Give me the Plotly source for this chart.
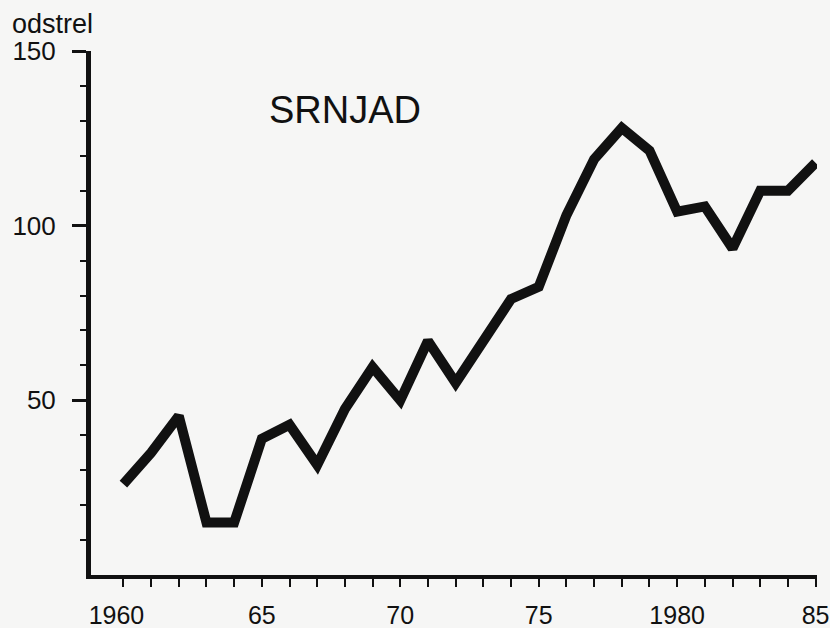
import plotly.graph_objects as go

# ---- data ----
years = list(range(1960, 1986))
odstrel = [26, 35, 45.5, 15, 15, 39, 43, 31.5, 47.5, 59.5, 50, 67, 55, 67,
           79, 82.5, 103, 119, 128, 121.5, 104, 105.5, 93.5, 110, 110, 118]

x_major_vals = [1960, 1965, 1970, 1975, 1980, 1985]
x_major_text = ["1960\u2007", "65", "70", "75", "1980", "85"]
x_minor_vals = [y for y in years if y not in x_major_vals]

y_major_vals = [50, 100, 150]
y_major_text = ["50", "100", "150"]
y_minor_vals = [10, 20, 30, 40, 60, 70, 80, 90, 110, 120, 130, 140]

title_text = "SRNJAD"
ylabel_text = "odstrel"

FONT = "Liberation Sans, Arial, Helvetica, sans-serif"
INK = "#111111"
PAPER = "#f6f6f5"

fig = go.Figure()
fig.add_trace(go.Scatter(
    x=years, y=odstrel, mode="lines",
    line=dict(color=INK, width=10),
    hoverinfo="skip", showlegend=False,
))

fig.update_layout(
    width=830, height=628,
    margin=dict(l=91, r=13, t=51, b=53, autoexpand=False),
    paper_bgcolor=PAPER, plot_bgcolor=PAPER,
    font=dict(family=FONT, color=INK, size=25),
    xaxis=dict(
        range=[1958.83, 1985.05], automargin=False,
        showgrid=False, zeroline=False,
        showline=True, linecolor=INK, linewidth=4,
        tickmode="array", tickvals=x_major_vals, ticktext=x_major_text,
        ticks="outside", ticklen=8, tickwidth=2, tickcolor=INK,
        tickfont=dict(family=FONT, size=25, color=INK),
        ticklabelstandoff=7,
        minor=dict(tickmode="array", tickvals=x_minor_vals, ticks="outside",
                   ticklen=8, tickwidth=2, tickcolor=INK, showgrid=False),
    ),
    yaxis=dict(
        range=[0, 150], automargin=False,
        showgrid=False, zeroline=False,
        showline=True, linecolor=INK, linewidth=5,
        tickmode="array", tickvals=y_major_vals, ticktext=y_major_text,
        ticks="outside", ticklen=14, tickwidth=3, tickcolor=INK,
        tickfont=dict(family=FONT, size=26, color=INK),
        ticklabelstandoff=11,
        minor=dict(tickmode="array", tickvals=y_minor_vals, ticks="outside",
                   ticklen=6, tickwidth=2, tickcolor=INK, showgrid=False),
    ),
    annotations=[
        dict(text=title_text, xref="paper", yref="paper", x=0.35, y=0.887,
             xanchor="center", yanchor="middle", showarrow=False,
             font=dict(family=FONT, size=38, color=INK)),
        dict(text=ylabel_text, xref="paper", yref="paper", x=-0.1116, y=1.084,
             xanchor="left", yanchor="top", showarrow=False,
             font=dict(family=FONT, size=27, color=INK)),
    ],
)

fig.write_html(
    "out.html",
    config={"displayModeBar": False},
    post_script=(
        "document.body.style.margin='0';"
        "document.body.style.padding='0';"
        "document.body.style.background='" + PAPER + "';"
    ),
)
